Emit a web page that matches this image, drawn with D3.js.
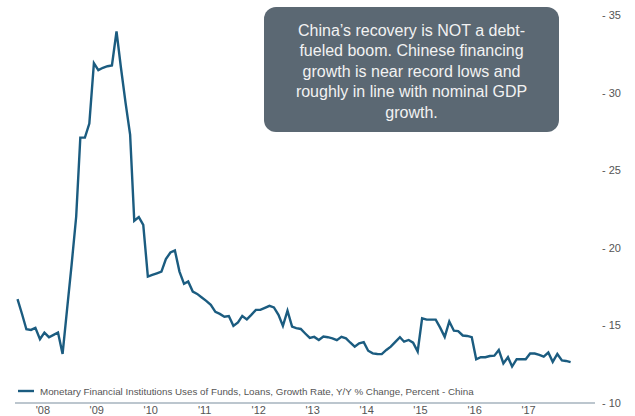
<!DOCTYPE html>
<html lang="en">
<head>
  <meta charset="UTF-8" />
  <title>China Loan Growth</title>
  <style>
    body {
      margin: 0;
      font-family: Arial, "Liberation Sans", sans-serif;
      background: #fff;
    }

    .tick-label {
      fill: #555;
      font-size: 11px;
    }

    .legend-text {
      fill: #555;
      font-size: 9.8px;
    }

    .note-text {
      fill: #f2f2f2;
      font-size: 16px;
    }
  </style>
  <script src="https://d3js.org/d3.v7.min.js"></script>
</head>
<body>
  <div id="chart"></div>

  <script>
    const width = 635;
    const height = 416;

    // Monthly readings, Jan 2008 onward (% y/y)
    const startMonth = new Date(2008, 0, 15);
    const loanGrowth = [
      16.69, 15.72, 14.75, 14.71, 14.84, 14.11, 14.54, 14.24, 14.39, 14.54, 13.16, 16.0,
      18.9, 22.0, 27.1, 27.1, 28.0, 31.9, 31.45, 31.6, 31.7, 31.75, 33.95, 31.6,
      29.35, 27.3, 21.74, 21.98, 21.48, 18.15, 18.25, 18.36, 18.47, 19.27, 19.7, 19.83,
      18.47, 17.68, 17.83, 17.18, 17.03, 16.8, 16.58, 16.32, 15.87, 15.74, 15.56, 15.6,
      14.97, 15.19, 15.61, 15.39, 15.68, 16.0, 16.0, 16.13, 16.26, 16.16, 15.68, 14.97,
      15.95, 14.92, 14.82, 14.77, 14.48, 14.19, 14.26, 14.06, 14.28, 14.24, 14.17, 14.05,
      14.26, 14.17, 13.9, 13.63, 13.84, 13.92, 13.37, 13.2, 13.16, 13.15, 13.42, 13.63,
      13.94, 14.24, 13.95, 14.06, 13.89, 13.32, 15.46, 15.37, 15.37, 15.37, 14.84, 14.26,
      15.25, 14.66, 14.63, 14.35, 14.32, 14.24, 12.82, 12.95, 12.95, 13.03, 13.05, 13.42,
      12.55, 12.95, 12.35, 12.82, 12.82, 12.82, 13.19, 13.19, 13.1, 12.99, 13.25, 12.65,
      13.16, 12.74, 12.71, 12.63
    ];
    const yearTicks = [2008, 2009, 2010, 2011, 2012, 2013, 2014, 2015, 2016, 2017];
    const valueTicks = [10, 15, 20, 25, 30, 35];
    const legendLabel = "Monetary Financial Institutions Uses of Funds, Loans, Growth Rate, Y/Y % Change, Percent - China";
    const noteLines = [
      "China\u2019s recovery is NOT a debt-",
      "fueled boom. Chinese financing",
      "growth is near record lows and",
      "roughly in line with nominal GDP",
      "growth."
    ];

    const data = loanGrowth.map((v, i) => ({
      date: d3.timeMonth.offset(startMonth, i),
      value: v
    }));

    const lineColor = "#1b5c80";

    const svg = d3.select("#chart")
      .append("svg")
      .attr("width", width)
      .attr("height", height);

    const x = d3.scaleTime()
      .domain([new Date(2007, 11, 29), new Date(2018, 8, 27)])
      .range([15, 595]);

    const y = d3.scaleLinear()
      .domain([10, 35])
      .range([403, 15]);

    // baseline
    svg.append("line")
      .attr("x1", x.range()[0])
      .attr("x2", x.range()[1])
      .attr("y1", y(10))
      .attr("y2", y(10))
      .attr("stroke", "#bcc6ce")
      .attr("stroke-width", 2);

    // right value axis, custom "- 35" style labels
    const yAxis = d3.axisRight(y)
      .tickValues(valueTicks)
      .tickSize(0)
      .tickFormat(d => "- " + d);

    svg.append("g")
      .attr("transform", "translate(602,0)")
      .call(yAxis)
      .call(g => g.select(".domain").remove())
      .call(g => g.selectAll("text")
        .attr("class", "tick-label")
        .attr("x", 0)
        .attr("fill", null));

    // bottom year axis, labels centred on mid-year
    const xAxis = d3.axisBottom(x)
      .tickValues(yearTicks.map(yr => new Date(yr, 6, 1)))
      .tickSize(0)
      .tickFormat(d => "'" + d3.timeFormat("%y")(d));

    svg.append("g")
      .attr("transform", "translate(0,405)")
      .call(xAxis)
      .call(g => g.select(".domain").remove())
      .call(g => g.selectAll("text")
        .attr("class", "tick-label")
        .attr("dy", "0.71em")
        .attr("y", 1)
        .attr("fill", null));

    // the series
    const line = d3.line()
      .x(d => x(d.date))
      .y(d => y(d.value));

    svg.append("path")
      .datum(data)
      .attr("fill", "none")
      .attr("stroke", lineColor)
      .attr("stroke-width", 2.4)
      .attr("stroke-linejoin", "miter")
      .attr("d", line);

    // legend
    svg.append("line")
      .attr("x1", 18)
      .attr("x2", 34)
      .attr("y1", 391)
      .attr("y2", 391)
      .attr("stroke", lineColor)
      .attr("stroke-width", 2.4);

    svg.append("text")
      .attr("class", "legend-text")
      .attr("x", 40)
      .attr("y", 394.5)
      .text(legendLabel);

    // annotation box
    const note = svg.append("g");

    note.append("rect")
      .attr("x", 264)
      .attr("y", 7)
      .attr("width", 295)
      .attr("height", 125)
      .attr("rx", 12)
      .attr("fill", "#5b6873");

    note.selectAll("text")
      .data(noteLines)
      .enter()
      .append("text")
      .attr("class", "note-text")
      .attr("x", 411.5)
      .attr("y", (d, i) => 36 + i * 20.4)
      .attr("text-anchor", "middle")
      .text(d => d);
  </script>
</body>
</html>
